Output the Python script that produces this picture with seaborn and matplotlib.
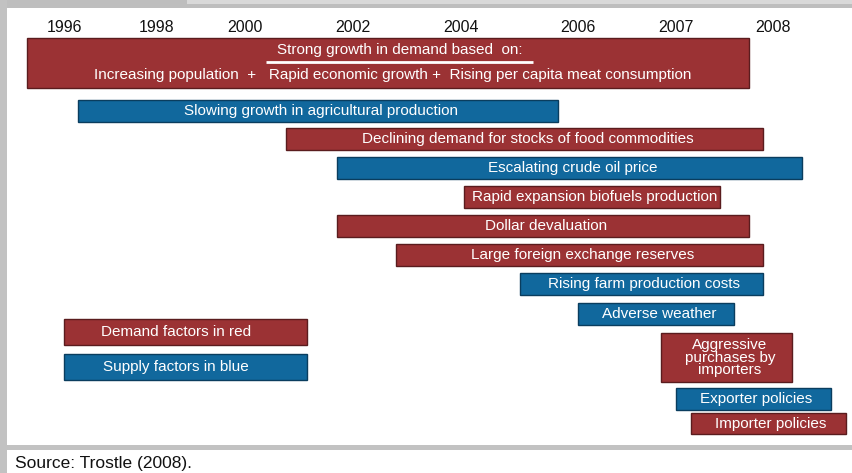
import numpy as np
import matplotlib
matplotlib.use("Agg")
import matplotlib.pyplot as plt
import seaborn as sns
from matplotlib.patches import Rectangle

# ---- data -----------------------------------------------------------------
years = [1996, 1998, 2000, 2002, 2004, 2006, 2007, 2008]

factors = [
    "Slowing growth in agricultural production",
    "Declining demand for stocks of food commodities",
    "Escalating crude oil price",
    "Rapid expansion biofuels production",
    "Dollar devaluation",
    "Large foreign exchange reserves",
    "Rising farm production costs",
    "Adverse weather",
    "Aggressive\npurchases by\nimporters",
    "Exporter policies",
    "Importer policies",
]
kind = ["supply", "demand", "supply", "demand", "demand", "demand",
        "supply", "supply", "demand", "supply", "demand"]
start_year = [1996.3, 2000.75, 2001.7, 2004.05, 2001.7, 2002.8,
              2005.0, 2006.0, 2006.85, 2007.0, 2007.15]
end_year = [2005.65, 2007.9, 2008.3, 2007.45, 2007.75, 2007.9,
            2007.9, 2007.6, 2008.2, 2008.6, 2008.75]

demand_title = "Strong growth in demand based  on:"
demand_drivers = "Increasing population  +   Rapid economic growth +  Rising per capita meat consumption"
demand_start, demand_end = 1995.2, 2007.75

legend_labels = ["Demand factors in red", "Supply factors in blue"]
legend_start, legend_end = 1996.0, 2001.15

source = "Source: Trostle (2008)."

# ---- layout / style -------------------------------------------------------
W, H = 852, 473
tick_px = [64, 157, 245, 353, 461, 578, 676, 773]   # uneven year spacing of the timeline
row_y = [111, 139, 168, 197, 226, 255, 284, 314, 357.5, 399, 423.5]
row_h = [22, 22, 22, 22, 22, 22, 22, 22, 49, 22, 21]
colors = {"demand": "#9b3234", "supply": "#11689d"}
edges = {"demand": "#5a1c1e", "supply": "#0a3d5e"}

sns.set_theme(style="white")
plt.rcParams["font.family"] = ["Liberation Sans", "DejaVu Sans"]

yr_ext = [1990] + years + [2012]
px_ext = [tick_px[0] - 6 * 46.5] + tick_px + [tick_px[-1] + 4 * 97]


def fwd(x):
    return np.interp(x, yr_ext, px_ext)


def inv(p):
    return np.interp(p, px_ext, yr_ext)


fig = plt.figure(figsize=(W / 100, H / 100), dpi=100)
ax = fig.add_axes([0, 0, 1, 1])
ax.set_xscale("function", functions=(fwd, inv))
ax.set_xlim(inv(0), inv(W))
ax.set_ylim(H, 0)
ax.set_axis_off()

# year labels along the top
for yr in years:
    ax.text(yr, 28, str(yr), ha="center", va="center", fontsize=11.5, color="#111111")

# big demand box
ax.barh(63, demand_end - demand_start, left=demand_start, height=50,
        color=colors["demand"], edgecolor=edges["demand"], linewidth=1)
ax.text(inv(400), 50, demand_title, ha="center", va="center", fontsize=11, color="white")
ax.plot([inv(266), inv(533)], [62, 62], color="white", lw=2, solid_capstyle="butt")
ax.text(inv(393), 75, demand_drivers, ha="center", va="center", fontsize=11, color="white")

# factor bars
for name, k, s, e, y, h in zip(factors, kind, start_year, end_year, row_y, row_h):
    ax.barh(y, e - s, left=s, height=h, color=colors[k], edgecolor=edges[k], linewidth=1)
    mid = inv((fwd(s) + fwd(e)) / 2 + 3)
    ax.text(mid, y, name, ha="center", va="center", fontsize=11, color="white",
            linespacing=0.9)

# legend boxes
for lab, k, y in zip(legend_labels, ["demand", "supply"], [332, 366.5]):
    ax.barh(y, legend_end - legend_start, left=legend_start, height=26,
            color=colors[k], edgecolor=edges[k], linewidth=1)
    ax.text(inv(176), y, lab, ha="center", va="center", fontsize=11, color="white")

# grey frame pieces of the page
def strip(x0, y0, x1, y1, c):
    fig.add_artist(Rectangle((x0 / W, 1 - y1 / H), (x1 - x0) / W, (y1 - y0) / H,
                             transform=fig.transFigure, color=c, lw=0, zorder=5))

strip(0, 0, W, 8, "#bebebe")
strip(187, 0, W, 4, "#d9d9d9")
strip(0, 0, 7, H, "#c2c2c2")
strip(0, 445, W, 450, "#c2c2c2")

fig.text(15 / W, 1 - 463 / H, source, ha="left", va="center", fontsize=12.5, color="#111111")

fig.savefig("out.png", dpi=100)
